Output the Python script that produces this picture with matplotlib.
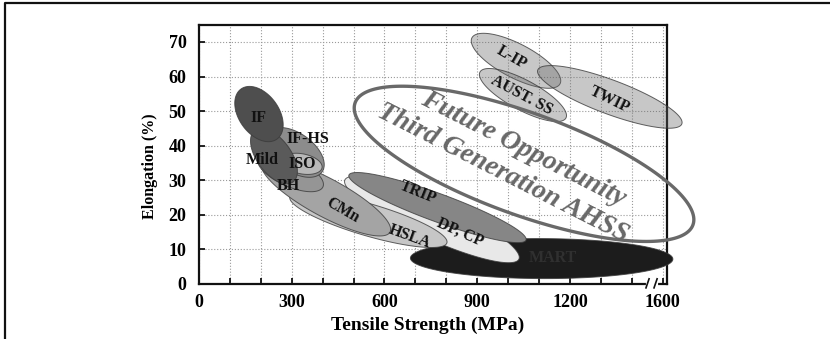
import numpy as np
import matplotlib
matplotlib.use("Agg")
import matplotlib.pyplot as plt
from matplotlib.patches import Polygon
from matplotlib.lines import Line2D

plt.rcParams['font.family'] = ['Liberation Serif', 'DejaVu Serif']
plt.rcParams['font.weight'] = 'bold'

# steel grades, drawn back to front
grades = ["MART", "DP, CP", "TRIP", "HSLA", "CMn", "BH", "IF-HS", "ISO", "Mild", "IF",
          "L-IP", "AUST. SS", "TWIP"]
# long axis of every property band: tensile strength (MPa) / elongation (%) at both tips
uts_a = [684, 472, 485, 294, 204, 191, 223, 268, 181, 136, 883, 909, 1096]
el_a = [7.5, 30.1, 31.5, 25.2, 35.0, 36.4, 43.7, 35.9, 44.5, 56.4, 71.2, 61.3, 61.9]
uts_b = [1533, 1035, 1058, 802, 618, 401, 398, 398, 304, 252, 1168, 1187, 1562]
el_b = [7.2, 7.2, 12.7, 11.9, 15.0, 28.1, 32.4, 33.6, 29.5, 41.9, 57.9, 48.0, 46.3]

# third generation AHSS target window
future_uts = [505, 1598]
future_el = [52.4, 17.1]

# label anchors (MPa, %)
label_uts = [1145, 844, 708, 682, 466, 288, 352, 333, 204, 191, 1012, 1045, 1329]
label_el = [7.5, 14.8, 26.6, 13.6, 21.4, 28.3, 41.9, 34.7, 35.9, 48.0, 65.4, 54.7, 53.2]

x_ticks = [0, 300, 600, 900, 1200, 1500]
x_ticklabels = ["0", "300", "600", "900", "1200", "1600"]
y_ticks = [0, 10, 20, 30, 40, 50, 60, 70]

# styling per grade
half_w = [20, 19, 14, 16, 19, 14, 19, 10, 17, 20, 17, 15, 17]
fills = ['#1c1c1c', '#e8e8e8', '#868686', '#c6c6c6', '#a4a4a4', '#959595', '#8c8c8c',
         '#b8b8b8', '#5a5a5a', '#4e4e4e', '#666666', '#666666', '#666666']
alphas = [1, 1, 1, 1, 1, 1, 1, 1, 1, 1, 0.36, 0.36, 0.36]
rots = [0, -24, -22, -20, -30, 0, 0, 0, 0, 0, -30, -28, -26]
txt_col = ['#303030'] + ['#111111'] * 12

fig = plt.figure(figsize=(8.3, 3.39), dpi=100)
ax = fig.add_axes([199 / 830, 1 - 284 / 339, 468 / 830, 259 / 339])
ax.set_xlim(0, 1514)
ax.set_ylim(0, 74.9)


def band(p, q, hw):
    # ellipse whose long axis runs from p to q (data), hw = half thickness in pixels
    d1, d2 = ax.transData.transform([p, q])
    c = (d1 + d2) / 2
    u = (d2 - d1) / 2
    n = np.array([-u[1], u[0]]) / np.hypot(*u) * hw
    t = np.linspace(0, 2 * np.pi, 200)
    pts = c + np.outer(np.cos(t), u) + np.outer(np.sin(t), n)
    return ax.transData.inverted().transform(pts)


for i, g in enumerate(grades):
    pts = band((uts_a[i], el_a[i]), (uts_b[i], el_b[i]), half_w[i])
    ax.add_patch(Polygon(pts, closed=True, facecolor=fills[i], alpha=alphas[i],
                         edgecolor='none', zorder=3, clip_on=False))
    ax.add_patch(Polygon(pts, closed=True, facecolor='none', edgecolor='#3a3a3a',
                         lw=0.7, alpha=0.8, zorder=3, clip_on=False))
    ax.text(label_uts[i], label_el[i], g, rotation=rots[i], ha='center', va='center',
            fontsize=11.5, color=txt_col[i], zorder=5, rotation_mode='anchor')

pts = band((future_uts[0], future_el[0]), (future_uts[1], future_el[1]), 51)
ax.add_patch(Polygon(pts, closed=True, facecolor='none', edgecolor='#696969', lw=2.4,
                     zorder=4, clip_on=False))
ax.text(1048, 39.1, "Future Opportunity", rotation=-27, ha='center', va='center',
        fontsize=20, style='italic', fontweight='heavy', color='#686868', zorder=5,
        rotation_mode='anchor')
ax.text(983, 32.1, "Third Generation AHSS", rotation=-27, ha='center', va='center',
        fontsize=20, style='italic', fontweight='heavy', color='#686868', zorder=5,
        rotation_mode='anchor')

ax.set_xticks(x_ticks)
ax.set_xticklabels(x_ticklabels)
ax.set_xticks(np.arange(0, 1501, 100), minor=True)
ax.set_yticks(y_ticks)
ax.tick_params(axis='both', which='both', direction='in', length=4, width=1.2,
               labelsize=13)
ax.tick_params(axis='x', pad=7)
ax.tick_params(axis='y', pad=9)
ax.grid(True, which='both', ls=':', lw=0.8, color='#9a9a9a')
ax.set_axisbelow(True)
for s in ax.spines.values():
    s.set_linewidth(1.6)
    s.set_color('#111111')

# broken-axis marks before the last tick
bl = ax.get_xaxis_transform()
ax.plot([1452, 1478], [0, 0], color='white', lw=3, transform=bl, clip_on=False, zorder=6)
for xb in (1446, 1472):
    ax.plot([xb, xb + 10], [-0.015, 0.02], color='#111111', lw=1.2, transform=bl,
            clip_on=False, zorder=7)

ax.set_xlabel("Tensile Strength (MPa)", fontsize=14, fontweight='bold')
ax.xaxis.set_label_coords(0.489, -0.16)
ax.xaxis.label.set_va('center')
ax.set_ylabel("Elongation (%)", fontsize=11.5, fontweight='bold')
ax.yaxis.set_label_coords(-0.105, 0.456)
ax.yaxis.label.set_va('center')

# outer frame
fig.add_artist(Line2D([5 / 830, 5 / 830, 1.0], [0.0, 1 - 3 / 339, 1 - 3 / 339],
                      color='#111111', lw=1.6))

fig.savefig("out.png", dpi=100)
